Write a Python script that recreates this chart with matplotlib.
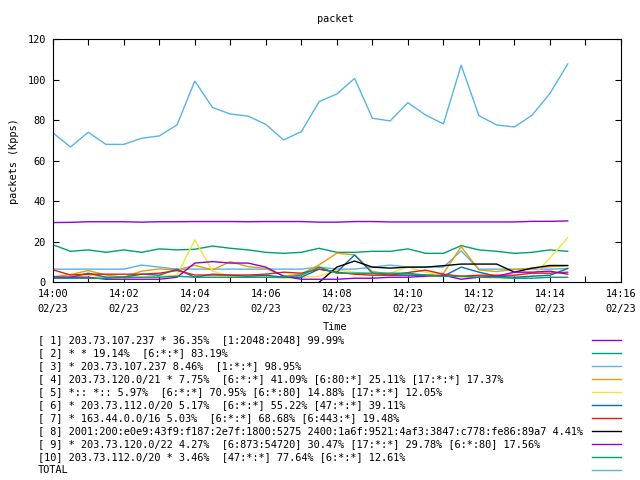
import matplotlib
matplotlib.use('Agg')
import pandas as pd
import matplotlib.pyplot as plt
import matplotlib.dates as mdates
from matplotlib.lines import Line2D

plt.rcParams['font.family'] = ['DejaVu Sans Mono']

# 30 samples, one every 30 s from 14:00:00
times = pd.date_range('2015-02-23 14:00:00', periods=30, freq='30s')

s1 = [29.5, 29.6, 29.9, 29.9, 29.9, 29.7, 29.9, 29.9, 30.0, 30.0,
      30.0, 29.9, 30.0, 30.0, 30.0, 29.7, 29.7, 30.0, 30.0, 29.8,
      29.8, 29.8, 29.8, 29.8, 29.8, 29.8, 29.8, 30.1, 30.1, 30.3]
s2 = [18.6, 15.3, 16.0, 14.8, 16.0, 14.8, 16.5, 16.0, 16.3, 17.9,
      16.8, 16.0, 14.8, 14.3, 14.8, 16.8, 14.8, 14.8, 15.3, 15.3,
      16.5, 14.3, 14.3, 18.1, 16.0, 15.3, 14.3, 14.8, 16.0, 15.3]
s3 = [6.5, 6.5, 6.5, 6.5, 6.5, 8.5, 7.5, 6.5, 6.5, 6.5,
      6.5, 6.5, 6.5, 6.5, 6.5, 7.5, 6.5, 6.5, 7.5, 8.5,
      7.5, 7.5, 7.5, 15.5, 6.5, 6.5, 6.5, 6.5, 6.5, 6.8]
s4 = [2.8, 3.8, 5.8, 3.6, 2.5, 5.5, 6.6, 6.1, 8.4, 6.1,
      10.2, 7.7, 6.9, 3.1, 4.1, 8.6, 14.4, 13.5, 5.3, 4.1,
      3.6, 3.6, 4.4, 17.6, 6.1, 5.3, 6.4, 6.9, 7.7, 8.2]
s5 = [2.0, 2.5, 3.5, 2.5, 2.0, 2.5, 3.0, 3.5, 21.0, 5.5,
      3.0, 2.5, 2.5, 2.0, 2.5, 3.0, 6.0, 5.0, 4.0, 4.5,
      7.5, 5.0, 3.5, 2.5, 2.5, 2.0, 2.0, 3.0, 12.0, 22.0]
s6 = [2.5, 2.5, 4.5, 2.5, 2.5, 4.0, 3.5, 6.5, 2.5, 4.0,
      3.5, 3.0, 3.5, 2.5, 2.5, 6.5, 5.0, 13.5, 4.5, 3.5,
      3.5, 3.5, 3.0, 7.5, 5.0, 3.0, 2.5, 3.0, 3.5, 6.8]
s7 = [6.2, 3.6, 4.0, 4.0, 4.0, 4.0, 4.5, 5.8, 3.6, 3.6,
      3.6, 3.6, 4.0, 5.0, 4.5, 6.5, 5.0, 4.0, 3.5, 3.5,
      4.8, 6.0, 4.0, 3.0, 3.5, 3.5, 3.5, 4.5, 4.5, 5.0]
nan = float('nan')
s8 = [nan, nan, nan, nan, nan, nan, nan, nan, nan, nan,
      nan, nan, nan, nan, nan, 0.0, 7.5, 10.5, 7.5, 7.0,
      7.5, 7.5, 8.2, 9.0, 9.0, 9.0, 5.0, 7.0, 8.3, 8.3]
s9 = [2.5, 2.5, 2.5, 1.5, 1.5, 1.5, 1.5, 2.5, 9.5, 10.2,
      9.5, 9.5, 7.5, 3.0, 1.5, 1.5, 1.5, 2.0, 2.0, 2.5,
      2.5, 3.0, 3.5, 1.5, 2.5, 3.0, 5.0, 5.0, 5.5, 4.0]
s10 = [2.0, 2.0, 2.0, 2.0, 2.5, 2.5, 2.5, 3.0, 2.5, 2.5,
       2.5, 2.5, 2.5, 2.5, 3.5, 7.5, 4.5, 4.5, 4.5, 4.5,
       4.5, 3.5, 3.0, 3.0, 2.5, 2.5, 2.0, 2.0, 2.5, 2.5]
total = [73.9, 66.8, 74.1, 68.1, 68.1, 71.1, 72.3, 77.7, 99.4, 86.3,
         83.1, 82.1, 78.0, 70.3, 74.4, 89.2, 93.0, 100.7, 81.0, 79.7,
         88.7, 82.6, 78.2, 107.2, 82.3, 77.7, 76.7, 82.6, 93.3, 107.8]

labels = [
    '[ 1] 203.73.107.237 * 36.35%  [1:2048:2048] 99.99%',
    '[ 2] * * 19.14%  [6:*:*] 83.19%',
    '[ 3] * 203.73.107.237 8.46%  [1:*:*] 98.95%',
    '[ 4] 203.73.120.0/21 * 7.75%  [6:*:*] 41.09% [6:80:*] 25.11% [17:*:*] 17.37%',
    '[ 5] *:: *:: 5.97%  [6:*:*] 70.95% [6:*:80] 14.88% [17:*:*] 12.05%',
    '[ 6] * 203.73.112.0/20 5.17%  [6:*:*] 55.22% [47:*:*] 39.11%',
    '[ 7] * 163.44.0.0/16 5.03%  [6:*:*] 68.68% [6:443:*] 19.48%',
    '[ 8] 2001:200:e0e9:43f9:f187:2e7f:1800:5275 2400:1a6f:9521:4af3:3847:c778:fe86:89a7 4.41%',
    '[ 9] * 203.73.120.0/22 4.27%  [6:873:54720] 30.47% [17:*:*] 29.78% [6:*:80] 17.56%',
    '[10] 203.73.112.0/20 * 3.46%  [47:*:*] 77.64% [6:*:*] 12.61%',
    'TOTAL',
]
colors = ['#9400d3', '#009e73', '#56b4e9', '#e69f00', '#f0e442', '#0072b2',
          '#e51e10', '#000000', '#9400d3', '#009e73', '#56b4e9']
series = [s1, s2, s3, s4, s5, s6, s7, s8, s9, s10, total]

W, H = 640, 480
fig = plt.figure(figsize=(6.4, 4.8), dpi=100)
ax = fig.add_axes([52.7 / W, 1 - 282.3 / H, (621 - 52.7) / W, (282.3 - 39.3) / H])

for vals, col in zip(series, colors):
    ax.plot(times, vals, color=col, lw=1.0)

ax.set_xlim(pd.Timestamp('2015-02-23 14:00'), pd.Timestamp('2015-02-23 14:16'))
ax.set_ylim(0, 120)
ax.set_yticks(range(0, 121, 20))
ax.xaxis.set_major_locator(mdates.MinuteLocator(byminute=range(0, 60, 2)))
ax.xaxis.set_minor_locator(mdates.MinuteLocator())
ax.xaxis.set_major_formatter(mdates.DateFormatter('%H:%M\n%m/%d'))
ax.tick_params(which='both', direction='in', top=True, right=True,
               length=4, width=0.8, labelsize=7.4)
ax.tick_params(axis='x', pad=5)
ax.tick_params(axis='y', pad=5)
for sp in ax.spines.values():
    sp.set_linewidth(0.8)
for lab in ax.get_xticklabels():
    lab.set_linespacing(1.6)

fig.text(335 / W, 1 - 19 / H, 'packet', ha='center', va='center', fontsize=7.4)
fig.text(14 / W, 1 - 161 / H, 'packets (Kpps)', rotation=90,
         ha='center', va='center', fontsize=7.4)
fig.text(335 / W, 1 - 327 / H, 'Time', ha='center', va='center', fontsize=7.4)

# key below the plot: text on the left, sample line on the right
for i, (lab, col) in enumerate(zip(labels, colors)):
    y = 1 - (340 + 13 * i) / H
    fig.text(38 / W, y, lab, ha='left', va='center', fontsize=7.4)
    fig.add_artist(Line2D([592 / W, 621 / W], [y, y], transform=fig.transFigure,
                          color=col, lw=1.0))

fig.savefig('out.png', dpi=100)
